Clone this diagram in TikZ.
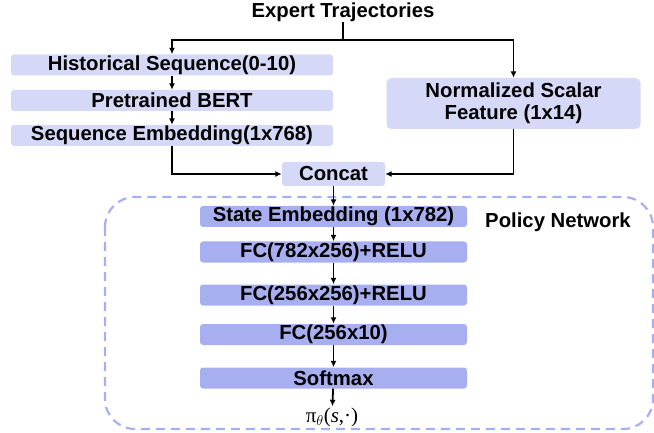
\documentclass[tikz,border=0pt]{standalone}
\usepackage{fontspec}
\setmainfont{Liberation Sans}
\newfontfamily\seriffont{Liberation Serif}
\usetikzlibrary{arrows.meta}
\definecolor{lightbox}{HTML}{D5D8F7}
\definecolor{darkbox}{HTML}{A8AFF0}
\tikzset{
  lbl/.style={font=\fontsize{20.3}{21}\selectfont\bfseries, inner sep=0pt},
  lightstep/.style={lbl, fill=lightbox, rounded corners=3pt, minimum height=21pt},
  darkstep/.style={lbl, fill=darkbox, rounded corners=3pt, minimum width=267pt, minimum height=21pt},
  conn/.style={line width=1.8pt, draw=black},
  arr/.style={conn, -{Latex[length=6.5pt,width=6pt]}},
}
\begin{document}
\begin{tikzpicture}[x=1pt,y=-1pt]
\useasboundingbox (0,0) rectangle (654,433);
% dashed container
\draw[draw=darkbox, line width=2.2pt, dash pattern=on 9pt off 6pt, rounded corners=30pt]
  (105,197) rectangle (653,429);
\node[lbl] (title) at (343,12) {Expert Trajectories};
\coordinate (split) at (343,40);
\node[lightstep, minimum width=322pt] (hist) at (172,65) {Historical Sequence(0-10)};
\node[lightstep, minimum width=322pt] (bert) at (172,100.5) {Pretrained BERT};
\node[lightstep, minimum width=322pt] (seqemb) at (172,135.5) {Sequence Embedding(1x768)};
\node[lbl, fill=lightbox, rounded corners=5pt, minimum width=254pt, minimum height=51pt, align=center] (norm) at (513.5,103.5) {Normalized Scalar\\[1pt]Feature (1x14)};
\node[lightstep, minimum width=103pt, minimum height=24pt] (concat) at (333.5,174) {Concat};
\node[darkstep] (state) at (333.5,216.5) {State Embedding (1x782)};
\node[darkstep] (fc1) at (333.5,252) {FC(782x256)+RELU};
\node[darkstep] (fc2) at (333.5,295) {FC(256x256)+RELU};
\node[darkstep] (fc3) at (333.5,334.5) {FC(256x10)};
\node[darkstep] (soft) at (333.5,378) {Softmax};
\node[inner sep=1pt, font=\fontsize{21}{22}\selectfont] (pi) at (332,417) {\seriffont π$_{\theta}$(\textit{s},·)};
\node[lbl] (policy) at (558,222) {Policy Network};
% connectors
\draw[conn] (title.south) -- (split);
\draw[arr] (split) -| (hist.north);
\draw[arr] (split) -| (norm.north);
\draw[arr] (hist) -- (bert);
\draw[arr] (bert) -- (seqemb);
\draw[arr] (seqemb.south) |- (concat.west);
\draw[arr] (norm.south) |- (concat.east);
\draw[arr] (concat) -- (state);
\draw[arr] (state) -- (fc1);
\draw[arr] (fc1) -- (fc2);
\draw[arr] (fc2) -- (fc3);
\draw[arr] (fc3) -- (soft);
\draw[arr] (soft) -- (pi);
\end{tikzpicture}
\end{document}
